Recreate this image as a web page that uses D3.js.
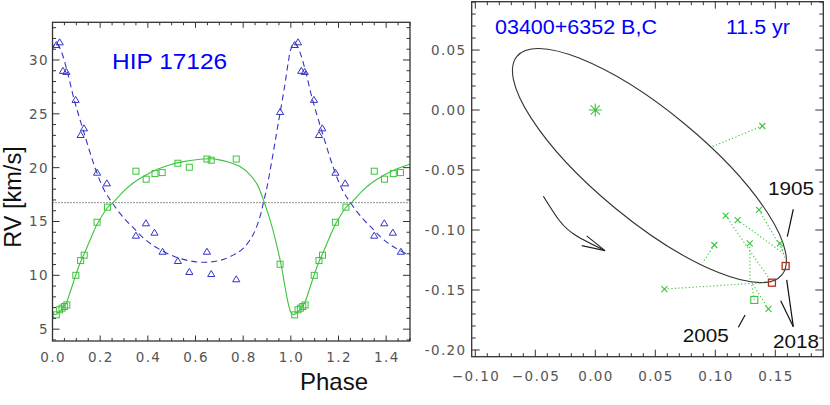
<!DOCTYPE html>
<html><head><meta charset="utf-8">
<script src="https://cdn.jsdelivr.net/npm/d3@7"></script>
<style>body{margin:0;background:#fff}svg{display:block}</style>
</head><body><svg id="c" width="830" height="405"></svg>
<script>
// ---------- LEFT PANEL DATA (RV curve, HIP 17126) ----------
const gammaRV = 16.75;
// primary (green squares): phase, RV
const phaseA = [0.016,0.030,0.040,0.050,0.060,0.098,0.118,0.133,0.187,0.231,0.350,0.393,0.430,0.460,0.526,0.574,0.648,0.666,0.771,0.955];
const rvA    = [6.33,6.80,6.95,7.10,7.25,10.00,11.37,11.87,14.93,16.33,19.67,18.93,19.45,19.54,20.41,20.04,20.80,20.69,20.80,11.03];
// secondary (blue triangles): phase, RV
const phaseB = [0.016,0.030,0.044,0.058,0.097,0.118,0.132,0.187,0.228,0.350,0.392,0.428,0.462,0.526,0.574,0.648,0.666,0.771,0.955];
const rvB    = [31.40,31.65,29.00,28.90,26.30,23.04,23.66,19.54,18.55,13.69,14.84,13.97,12.20,11.34,10.32,12.20,10.13,9.64,25.18];
// orbit fit curves (one cycle)
const fitPhaseA = [0.000,0.011,0.025,0.040,0.057,0.075,0.095,0.115,0.135,0.160,0.187,0.210,0.231,0.256,0.300,0.340,0.390,0.440,0.490,0.550,0.620,0.660,0.700,0.740,0.787,0.830,0.860,0.885,0.905,0.925,0.944,0.960,0.975,0.990];
const fitRvA    = [6.55,6.35,6.50,6.85,7.40,8.50,9.85,11.10,12.10,13.40,14.75,15.60,16.30,16.80,17.85,18.60,19.30,19.85,20.25,20.56,20.78,20.82,20.72,20.50,20.10,19.30,18.40,17.00,15.70,14.20,12.50,10.90,9.00,7.30];
const fitPhaseB = [0.000,0.015,0.035,0.060,0.090,0.130,0.180,0.215,0.250,0.300,0.340,0.390,0.450,0.530,0.620,0.700,0.760,0.800,0.840,0.870,0.885,0.900,0.920,0.940,0.955,0.975,0.990];
const fitRvB    = [31.00,31.60,30.90,29.10,26.40,23.40,19.90,18.00,16.75,15.30,14.40,13.30,12.40,11.60,11.22,11.37,11.90,12.50,13.70,15.40,16.75,18.20,20.60,23.20,25.10,27.70,29.90];
const leftXTicks = [0.0,0.2,0.4,0.6,0.8,1.0,1.2,1.4];
const leftXLabels = ["0.0","0.2","0.4","0.6","0.8","1.0","1.2","1.4"];
const leftYTicks = [5,10,15,20,25,30];
const leftYLabels = ["5","10","15","20","25","30"];

// ---------- RIGHT PANEL DATA (orbit, 03400+6352 B,C) ----------
// ellipse: centre x, centre y, semi-major, semi-minor, position angle of major axis (deg, data frame)
const orbitCx = 0.0451, orbitCy = -0.0463, orbitA = 0.1431, orbitB = 0.0455, orbitAngle = -39.5;
const obsX   = [0.1392,0.0992,0.1086,0.1186,0.1364,0.1539,0.1287,0.0576,0.1443];
const obsY   = [-0.0133,-0.1125,-0.0880,-0.0917,-0.0833,-0.1111,-0.1111,-0.1492,-0.1658];
const obsFitX= [0.0973,0.0895,0.1470,0.1575,0.1560,0.1588,0.1290,0.1420,0.1300];
const obsFitY= [-0.0306,-0.1273,-0.1435,-0.1200,-0.1170,-0.1250,-0.1432,-0.1438,-0.1432];
const sqX = [0.1325], sqY = [-0.1583], sqFitX = [0.1300], sqFitY = [-0.1432];
const predX = [0.1586,0.1472], predY = [-0.1300,-0.1439];
const arrowX = [-0.0433,-0.0298,-0.0158,0.0081];
const arrowY = [-0.0718,-0.0923,-0.1048,-0.1172];
const arrowHeadX = [-0.0113,0.0081,-0.0072];
const arrowHeadY = [-0.1130,-0.1172,-0.1049];
const rightXTicks = [-0.10,-0.05,0.00,0.05,0.10,0.15];
const rightXLabels = ["\u22120.10","\u22120.05","0.00","0.05","0.10","0.15"];
const rightYTicks = [-0.20,-0.15,-0.10,-0.05,0.00,0.05];
const rightYLabels = ["-0.20","-0.15","-0.10","-0.05","0.00","0.05"];
const yearLabels = ["1905","2005","2018"];
const yearLabelX = [0.1439,0.0728,0.1481];
const yearLabelY = [-0.0708,-0.1933,-0.1983];
const pointerX1 = [0.1650,0.1248,0.1595,0.1545], pointerY1 = [-0.0827,-0.1708,-0.1416,-0.1589];
const pointerX2 = [0.1600,0.1192,0.1650,0.1650], pointerY2 = [-0.1055,-0.1810,-0.1806,-0.1806];

const GREEN = "#3cc43c", BLUE = "#3434c4", AXIS = "#333", TICKTXT = "#555";
const svg = d3.select("#c");

function frame(g, x, y, o) {
  const [x0, x1] = x.range(), [y0, y1] = y.range();
  g.append("rect").attr("x", x0).attr("y", y1).attr("width", x1 - x0).attr("height", y0 - y1)
    .attr("fill", "none").attr("stroke", AXIS).attr("stroke-width", 1.3);
  const seg = (xa, ya, xb, yb) => g.append("line").attr("x1", xa).attr("y1", ya).attr("x2", xb).attr("y2", yb)
    .attr("stroke", AXIS).attr("stroke-width", 1);
  o.xMinor.forEach(v => { const len = o.xMaj.some(m => Math.abs(m - v) < 1e-9) ? o.xLenMaj : o.xLenMin;
    seg(x(v), y0, x(v), y0 - len); seg(x(v), y1, x(v), y1 + len); });
  o.yMinor.forEach(v => { const len = o.yMaj.some(m => Math.abs(m - v) < 1e-9) ? o.yLenMaj : o.yLenMin;
    seg(x0, y(v), x0 + len, y(v)); seg(x1, y(v), x1 - len, y(v)); });
  const tfont = t => t.attr("font-family", "DejaVu Sans, sans-serif").attr("font-size", 13.5)
    .attr("fill", TICKTXT).attr("letter-spacing", 1.4);
  o.xMaj.forEach((v, i) => tfont(g.append("text")).attr("x", x(v) + 0.7).attr("y", y0 + o.xLabOff)
    .attr("text-anchor", "middle").text(o.xLab[i]));
  o.yMaj.forEach((v, i) => tfont(g.append("text")).attr("x", x0 - o.yLabGap + 1.4).attr("y", y(v) + 5)
    .attr("text-anchor", "end").text(o.yLab[i]));
}

// ================= LEFT PANEL =================
const xL = d3.scaleLinear().domain([0, 1.5]).range([52.5, 410]);
const yL = d3.scaleLinear().domain([3.9, 33.5]).range([341, 22.3]);
const gL = svg.append("g");
svg.append("clipPath").attr("id", "clipL").append("rect")
  .attr("x", 52.5).attr("y", 22.3).attr("width", 410 - 52.5).attr("height", 341 - 22.3);
const pL = gL.append("g").attr("clip-path", "url(#clipL)");

// gamma line
pL.append("line").attr("x1", xL(0)).attr("x2", xL(1.5)).attr("y1", yL(gammaRV)).attr("y2", yL(gammaRV))
  .attr("stroke", "#222").attr("stroke-width", 1).attr("stroke-dasharray", "1,2");

function periodic(ph, v) {
  const pts = [];
  [-1, 0, 1, 2].forEach(k => ph.forEach((p, i) => pts.push([p + k, v[i]])));
  return pts;
}
const lineL = d3.line().x(d => xL(d[0])).y(d => yL(d[1])).curve(d3.curveCatmullRom.alpha(0.5));
pL.append("path").attr("d", lineL(periodic(fitPhaseA, fitRvA))).attr("fill", "none")
  .attr("stroke", GREEN).attr("stroke-width", 1.1);
pL.append("path").attr("d", lineL(periodic(fitPhaseB, fitRvB))).attr("fill", "none")
  .attr("stroke", BLUE).attr("stroke-width", 1.1).attr("stroke-dasharray", "6,4");

const ptsA = [], ptsB = [];
[0, 1].forEach(k => { phaseA.forEach((p, i) => ptsA.push([p + k, rvA[i]])); phaseB.forEach((p, i) => ptsB.push([p + k, rvB[i]])); });
pL.selectAll("rect.sq").data(ptsA).enter().append("rect").attr("class", "sq")
  .attr("x", d => xL(d[0]) - 3).attr("y", d => yL(d[1]) - 3).attr("width", 6).attr("height", 6)
  .attr("fill", "none").attr("stroke", GREEN).attr("stroke-width", 1);
pL.selectAll("path.tri").data(ptsB).enter().append("path").attr("class", "tri")
  .attr("d", d => `M${xL(d[0])},${yL(d[1]) - 3.4}L${xL(d[0]) + 3.6},${yL(d[1]) + 2.6}L${xL(d[0]) - 3.6},${yL(d[1]) + 2.6}Z`)
  .attr("fill", "none").attr("stroke", BLUE).attr("stroke-width", 1);

frame(gL, xL, yL, {
  xMaj: leftXTicks, xLab: leftXLabels, xMinor: d3.range(0, 31).map(i => i * 0.05),
  yMaj: leftYTicks, yLab: leftYLabels, yMinor: d3.range(4, 34),
  xLenMaj: 5.5, xLenMin: 3, yLenMaj: 7, yLenMin: 3.5, xLabOff: 21, yLabGap: 5
});

gL.append("text").attr("x", xL(0.25)).attr("y", yL(29.15)).attr("fill", "#0000ff")
  .attr("font-family", "Liberation Sans, Arial, sans-serif").attr("font-size", 22.5)
  .attr("textLength", 115).attr("lengthAdjust", "spacingAndGlyphs").text("HIP 17126");
gL.append("text").attr("x", 334).attr("y", 390).attr("text-anchor", "middle").attr("fill", "#111")
  .attr("font-family", "Liberation Sans, Arial, sans-serif").attr("font-size", 24).text("Phase");
gL.append("text").attr("transform", `translate(21,${yL(17.27)}) rotate(-90)`).attr("text-anchor", "middle")
  .attr("fill", "#111").attr("font-family", "Liberation Sans, Arial, sans-serif").attr("font-size", 23.5)
  .text("RV [km/s]");

// ================= RIGHT PANEL =================
const xR = d3.scaleLinear().domain([-0.103, 0.19]).range([471.7, 823.3]);
const yR = d3.scaleLinear().domain([-0.2056, 0.0903]).range([356.7, 1.7]);
const gR = svg.append("g");

// orbit ellipse
gR.append("ellipse").attr("cx", xR(orbitCx)).attr("cy", yR(orbitCy))
  .attr("rx", xR(orbitA) - xR(0)).attr("ry", yR(0) - yR(orbitB))
  .attr("transform", `rotate(${-orbitAngle},${xR(orbitCx)},${yR(orbitCy)})`)
  .attr("fill", "none").attr("stroke", "#333").attr("stroke-width", 1.1);

// residual lines
obsX.forEach((v, i) => gR.append("line").attr("x1", xR(v)).attr("y1", yR(obsY[i]))
  .attr("x2", xR(obsFitX[i])).attr("y2", yR(obsFitY[i])).attr("stroke", GREEN)
  .attr("stroke-width", 1.1).attr("stroke-dasharray", "1.2,2.3"));
sqX.forEach((v, i) => gR.append("line").attr("x1", xR(v)).attr("y1", yR(sqY[i]))
  .attr("x2", xR(sqFitX[i])).attr("y2", yR(sqFitY[i])).attr("stroke", GREEN)
  .attr("stroke-width", 1.1).attr("stroke-dasharray", "1.2,2.3"));

// x markers
obsX.forEach((v, i) => {
  const cx = xR(v), cy = yR(obsY[i]), r = 3;
  gR.append("path").attr("d", `M${cx - r},${cy - r}L${cx + r},${cy + r}M${cx - r},${cy + r}L${cx + r},${cy - r}`)
    .attr("stroke", GREEN).attr("stroke-width", 1.1).attr("fill", "none");
});
sqX.forEach((v, i) => gR.append("rect").attr("x", xR(v) - 3.5).attr("y", yR(sqY[i]) - 3.5)
  .attr("width", 7).attr("height", 7).attr("fill", "none").attr("stroke", GREEN).attr("stroke-width", 1.1));
predX.forEach((v, i) => gR.append("rect").attr("x", xR(v) - 3.5).attr("y", yR(predY[i]) - 3.5)
  .attr("width", 7).attr("height", 7).attr("fill", "none").attr("stroke", "#b0301e").attr("stroke-width", 1.3));

// primary star (asterisk)
{
  const cx = xR(0), cy = yR(0), r = 6.5, d = r * 0.71;
  gR.append("path").attr("d", `M${cx - r},${cy}L${cx + r},${cy}M${cx},${cy - r}L${cx},${cy + r}M${cx - d},${cy - d}L${cx + d},${cy + d}M${cx - d},${cy + d}L${cx + d},${cy - d}`)
    .attr("stroke", GREEN).attr("stroke-width", 1.1).attr("fill", "none");
}

// motion arrow
const lineR = d3.line().x(d => xR(d[0])).y(d => yR(d[1])).curve(d3.curveNatural);
gR.append("path").attr("d", lineR(arrowX.map((v, i) => [v, arrowY[i]]))).attr("fill", "none")
  .attr("stroke", "#222").attr("stroke-width", 1.1);
gR.append("path").attr("d", d3.line().x(d => xR(d[0])).y(d => yR(d[1]))(arrowHeadX.map((v, i) => [v, arrowHeadY[i]])))
  .attr("fill", "none").attr("stroke", "#222").attr("stroke-width", 1.1);

// pointer lines and year labels
pointerX1.forEach((v, i) => gR.append("line").attr("x1", xR(v)).attr("y1", yR(pointerY1[i]))
  .attr("x2", xR(pointerX2[i])).attr("y2", yR(pointerY2[i])).attr("stroke", "#111").attr("stroke-width", 1.2));
yearLabels.forEach((t, i) => gR.append("text").attr("x", xR(yearLabelX[i])).attr("y", yR(yearLabelY[i]))
  .attr("font-family", "Liberation Sans, Arial, sans-serif").attr("font-size", 18.5).attr("fill", "#111")
  .attr("textLength", 46).attr("lengthAdjust", "spacingAndGlyphs").text(t));

frame(gR, xR, yR, {
  xMaj: rightXTicks, xLab: rightXLabels, xMinor: d3.range(-10, 20).map(i => i / 100),
  yMaj: rightYTicks, yLab: rightYLabels, yMinor: d3.range(-20, 10).map(i => i / 100),
  xLenMaj: 7, xLenMin: 3.5, yLenMaj: 8, yLenMin: 4, xLabOff: 24, yLabGap: 6.5
});

gR.append("text").attr("x", xR(-0.0836)).attr("y", yR(0.0634)).attr("fill", "#0000ff")
  .attr("font-family", "Liberation Sans, Arial, sans-serif").attr("font-size", 20)
  .attr("textLength", 162).attr("lengthAdjust", "spacingAndGlyphs").text("03400+6352 B,C");
gR.append("text").attr("x", xR(0.1089)).attr("y", yR(0.0634)).attr("fill", "#0000ff")
  .attr("font-family", "Liberation Sans, Arial, sans-serif").attr("font-size", 20)
  .attr("textLength", 64).attr("lengthAdjust", "spacingAndGlyphs").text("11.5 yr");
</script></body></html>
